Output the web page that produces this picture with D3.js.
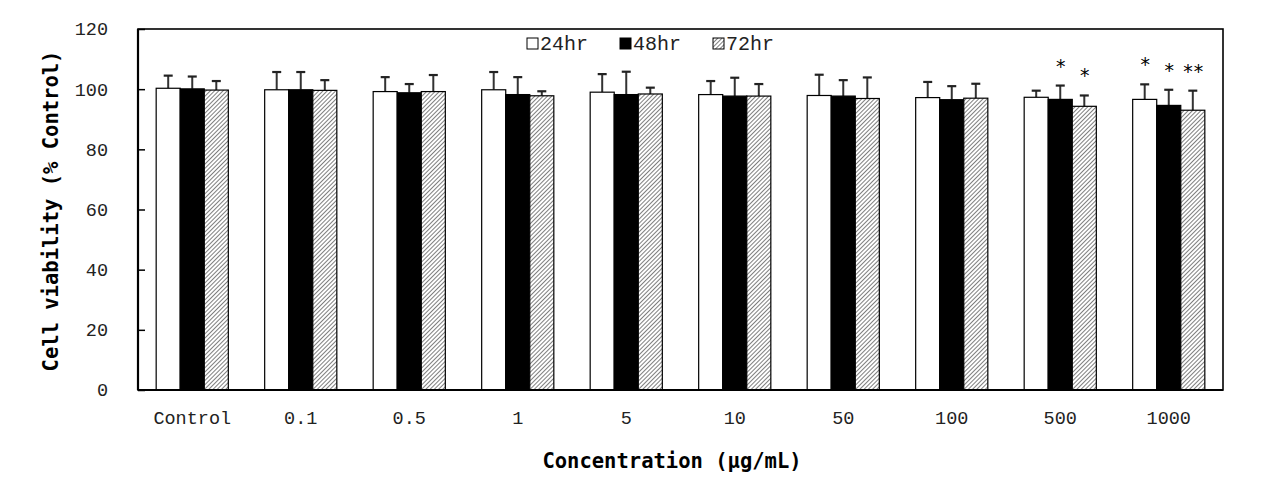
<!DOCTYPE html>
<html><head><meta charset="utf-8">
<script src="https://cdn.jsdelivr.net/npm/d3@7"></script>
<style>body{margin:0;background:#fff}svg{display:block}</style>
</head><body>
<svg id="c" width="1264" height="489"></svg>
<script>
const categories = ["Control","0.1","0.5","1","5","10","50","100","500","1000"];
const seriesNames = ["24hr","48hr","72hr"];
const values24 = [100.3, 99.8, 99.2, 99.8, 99.0, 98.2, 97.9, 97.2, 97.3, 96.6];
const values48 = [100.1, 99.8, 98.8, 98.2, 98.2, 97.7, 97.7, 96.5, 96.6, 94.6];
const values72 = [99.7, 99.6, 99.2, 97.8, 98.4, 97.7, 96.9, 97.0, 94.3, 93.0];
const errTop24 = [104.5, 105.7, 104.0, 105.7, 105.0, 102.7, 104.8, 102.4, 99.5, 101.6];
const errTop48 = [104.2, 105.7, 101.7, 104.0, 105.8, 103.8, 103.0, 101.0, 101.2, 99.8];
const errTop72 = [102.7, 103.0, 104.7, 99.3, 100.5, 101.7, 103.9, 101.8, 97.9, 99.5];
const marks24 = ["","","","","","","","","","*"];
const marks48 = ["","","","","","","","","*","*"];
const marks72 = ["","","","","","","","","*","**"];
const yTicks = [0,20,40,60,80,100,120];

const svg = d3.select("#c");
const L = 138, R = 1223, T = 29, B = 390;
const y = d3.scaleLinear().domain([0,120]).range([B,T]);
const x0 = d3.scaleBand().domain(categories).range([L,R]).paddingInner(0.335).paddingOuter(0.1675);
const x1 = d3.scaleBand().domain(seriesNames).range([0, x0.bandwidth()]);

const defs = svg.append("defs");
const pat = defs.append("pattern").attr("id","hatch").attr("patternUnits","userSpaceOnUse")
  .attr("width",3).attr("height",3).attr("patternTransform","rotate(45)");
pat.append("rect").attr("width",3).attr("height",3).attr("fill","#fff");
pat.append("line").attr("x1",0).attr("y1",0).attr("x2",0).attr("y2",3).attr("stroke","#000").attr("stroke-width",1);

const fills = {"24hr":"#fff","48hr":"#000","72hr":"url(#hatch)"};
const data = categories.map((c,i)=>({cat:c, bars:[
  {s:"24hr", v:values24[i], e:errTop24[i], m:marks24[i]},
  {s:"48hr", v:values48[i], e:errTop48[i], m:marks48[i]},
  {s:"72hr", v:values72[i], e:errTop72[i], m:marks72[i]}]}));

const g = svg.append("g");
const grp = g.selectAll("g.grp").data(data).join("g").attr("class","grp")
  .attr("transform", d=>`translate(${x0(d.cat)},0)`);
grp.selectAll("line.err").data(d=>d.bars).join("line").attr("class","err")
  .attr("x1", b=>x1(b.s)+x1.bandwidth()/2).attr("x2", b=>x1(b.s)+x1.bandwidth()/2)
  .attr("y1", b=>y(b.v)).attr("y2", b=>y(b.e)).attr("stroke","#333").attr("stroke-width",2);
grp.selectAll("line.cap").data(d=>d.bars).join("line").attr("class","cap")
  .attr("x1", b=>x1(b.s)+x1.bandwidth()/2-4.5).attr("x2", b=>x1(b.s)+x1.bandwidth()/2+4.5)
  .attr("y1", b=>y(b.e)).attr("y2", b=>y(b.e)).attr("stroke","#222").attr("stroke-width",2.2);
grp.selectAll("rect").data(d=>d.bars).join("rect")
  .attr("x", b=>x1(b.s)).attr("width", x1.bandwidth())
  .attr("y", b=>y(b.v)).attr("height", b=>B - y(b.v))
  .attr("fill", b=>fills[b.s]).attr("stroke","#000").attr("stroke-width",1.2);
grp.selectAll("text.mk").data(d=>d.bars.filter(b=>b.m)).join("text").attr("class","mk")
  .attr("x", b=>x1(b.s)+x1.bandwidth()/2).attr("y", b=>y(b.e)-13)
  .attr("text-anchor","middle").attr("font-family","DejaVu Sans Mono").attr("font-size",19)
  .attr("letter-spacing",-1).text(b=>b.m);

svg.append("rect").attr("x",L).attr("y",T).attr("width",R-L).attr("height",B-T)
  .attr("fill","none").attr("stroke","#000").attr("stroke-width",1.6);
svg.append("line").attr("x1",L).attr("x2",L).attr("y1",T).attr("y2",B).attr("stroke","#000").attr("stroke-width",2.2);
svg.append("line").attr("x1",L).attr("x2",R).attr("y1",B).attr("y2",B).attr("stroke","#000").attr("stroke-width",2.2);

const yAxis = d3.axisRight(y).tickValues(yTicks).tickSize(7).tickFormat("");
const ya = svg.append("g").attr("transform",`translate(${L},0)`).call(yAxis);
ya.select(".domain").remove();
ya.selectAll("line").attr("stroke","#000").attr("stroke-width",1.5);
svg.append("g").selectAll("text").data(yTicks).join("text")
  .attr("x",108).attr("y",d=>y(d)).attr("dy","0.35em").attr("text-anchor","end")
  .attr("font-family","Liberation Mono").attr("font-size",18.5).attr("fill","#222").text(d=>d);

svg.append("g").selectAll("text").data(categories).join("text")
  .attr("x",d=>x0(d)+x0.bandwidth()/2).attr("y",424).attr("text-anchor","middle")
  .attr("font-family","Liberation Mono").attr("font-size",18.5).attr("fill","#222").text(d=>d);

svg.append("text").attr("transform","translate(58,211) rotate(-90)").attr("text-anchor","middle")
  .attr("font-family","DejaVu Sans Mono").attr("font-weight","bold").attr("font-size",20.5).text("Cell viability (% Control)");
svg.append("text").attr("x",672).attr("y",468).attr("text-anchor","middle")
  .attr("font-family","DejaVu Sans Mono").attr("font-weight","bold").attr("font-size",20.5).text("Concentration (μg/mL)");

const legX = [527, 620, 713];
const lg = svg.append("g").selectAll("g").data(seriesNames).join("g")
  .attr("transform",(d,i)=>`translate(${legX[i]},38)`);
lg.append("rect").attr("x",0).attr("y",0).attr("width",11).attr("height",11)
  .attr("fill",d=>fills[d]).attr("stroke","#000").attr("stroke-width",1);
lg.append("text").attr("x",13).attr("y",12).attr("font-family","Liberation Mono")
  .attr("font-size",20).attr("fill","#222").text(d=>d);
</script>
</body></html>
